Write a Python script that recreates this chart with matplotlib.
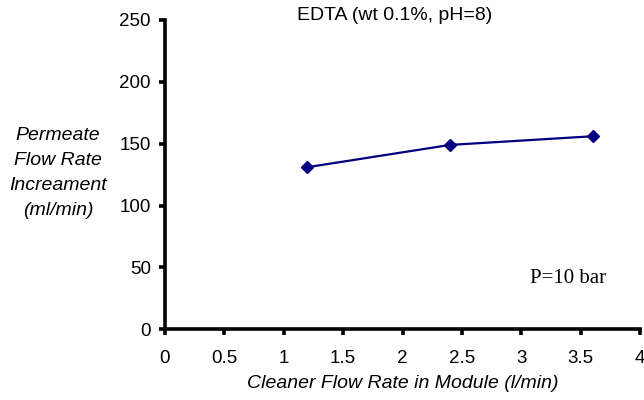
import matplotlib
matplotlib.use("Agg")
import matplotlib.pyplot as plt

# data
flow_rate = [1.2, 2.4, 3.6]          # l/min
permeate_inc = [131, 149, 156]       # ml/min
x_ticks = [0, 0.5, 1, 1.5, 2, 2.5, 3, 3.5, 4]
x_tick_labels = ["0", "0.5", "1", "1.5", "2", "2.5", "3", "3.5", "4"]
y_ticks = [0, 50, 100, 150, 200, 250]

plt.rcParams["font.family"] = ["Liberation Sans", "DejaVu Sans"]

fig = plt.figure(figsize=(6.44, 4.0), dpi=100)
ax = fig.add_axes([0.256, 0.177, 0.738, 0.773])

ax.plot(flow_rate, permeate_inc, color="#000080", lw=1.6,
        marker="D", markersize=6, markerfacecolor="#000080",
        markeredgecolor="#000080", clip_on=False)

ax.set_xlim(0, 4)
ax.set_ylim(0, 250)
ax.set_xticks(x_ticks)
ax.set_xticklabels(x_tick_labels)
ax.set_yticks(y_ticks)

for side in ("top", "right"):
    ax.spines[side].set_visible(False)
for side in ("left", "bottom"):
    ax.spines[side].set_linewidth(2.6)
ax.tick_params(axis="both", labelsize=13.5, width=2.6, color="black")
ax.tick_params(axis="x", direction="out", length=4, pad=11)
ax.tick_params(axis="y", direction="out", length=4, pad=6)

ax.set_xlabel("Cleaner Flow Rate in Module (l/min)", fontsize=14,
              style="italic", labelpad=6)
fig.text(0.09, 0.5675, "Permeate\nFlow Rate\nIncreament\n(ml/min)",
         ha="center", va="center", fontsize=14, style="italic",
         linespacing=1.6)

fig.text(0.612, 0.96, "EDTA (wt 0.1%, pH=8)", ha="center", va="center",
         fontsize=14)
ax.text(3.07, 41, "P=10 bar", ha="left", va="center", fontsize=15,
        family=["Liberation Serif", "DejaVu Serif"])

fig.savefig("out.png", dpi=100)
